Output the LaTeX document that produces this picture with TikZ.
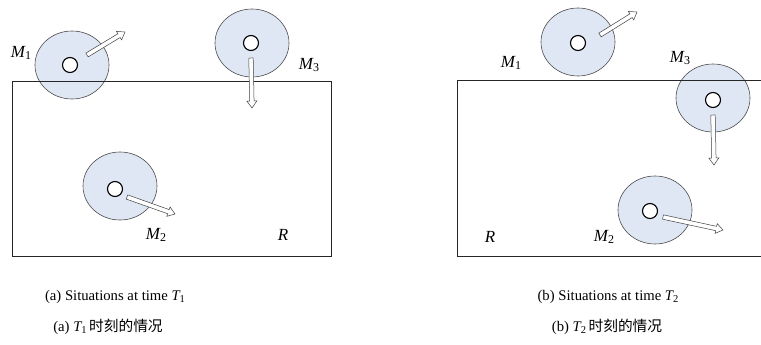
\documentclass[tikz,border=0pt]{standalone}
\usepackage{fontspec}
\setmainfont{Liberation Serif}[ItalicFont={Liberation Serif Italic}]
\newfontfamily\cjk{Noto Sans CJK SC}
\newfontfamily\serifit{Liberation Serif Italic}
\usetikzlibrary{shapes.geometric,calc}
\definecolor{diskfill}{RGB}{224,231,244}
\tikzset{
  disk/.style={ellipse, draw=black!70, line width=0.6pt, fill=diskfill, minimum width=74pt, minimum height=68pt, inner sep=0pt},
  hole/.style={circle, draw=black, line width=1.1pt, fill=white, minimum size=15pt, inner sep=0pt},
  lbl/.style={font=\fontsize{17}{19}\selectfont, inner sep=0pt},
  captext/.style={font=\fontsize{14.7}{16}\selectfont, inner sep=0pt},
  region/.style={draw=black!85, line width=0.9pt},
  pics/harrow/.style={code={
    \draw[draw=black!75, line width=0.5pt, fill=white]
      (0,-2.2) -- ({#1-7},-2.2) -- ({#1-7},-5) -- (#1,0) -- ({#1-7},5) -- ({#1-7},2.2) -- (0,2.2) -- cycle;}}
}
\newcommand\hollowarrow[2]{%
  \path let \p1=(#1), \p2=(#2), \n1={atan2(\y2-\y1,\x2-\x1)}, \n2={veclen(\x2-\x1,\y2-\y1)} in
    pic[rotate=\n1] at (\p1) {harrow=\n2};}
\newcommand\Mlab[1]{{\serifit M}\raisebox{-0.35ex}{\fontsize{12}{13}\selectfont #1}}
\newcommand\Tlab[1]{{\serifit T}\raisebox{-0.3ex}{\fontsize{10.5}{11}\selectfont #1}}
\begin{document}
\begin{tikzpicture}[x=1pt,y=-1pt]
\useasboundingbox (0,0) rectangle (761,345);
% ---------- left panel ----------
\node[disk] (la) at (72,65) {};
\node[disk] (lc) at (252,43) {};
\node[disk] (lb) at (120,186) {};
\draw[region] (12,81) rectangle (331,256);
\node[hole] (lah) at (70,65) {};
\node[hole] (lch) at (251,43) {};
\node[hole] (lbh) at (115,189) {};
\coordinate (las) at (87,55);  \coordinate (lae) at (125,32);
\coordinate (lcs) at (251,58); \coordinate (lce) at (252,108);
\coordinate (lbs) at (127,197);\coordinate (lbe) at (175,214);
\hollowarrow{las}{lae}
\hollowarrow{lcs}{lce}
\hollowarrow{lbs}{lbe}
\node[lbl] (lm1) at (21,53) {\Mlab{1}};
\node[lbl] (lm3) at (309,65) {\Mlab{3}};
\node[lbl] (lm2) at (156,235) {\Mlab{2}};
\node[lbl] (lr) at (283,235) {{\serifit R}};
% ---------- right panel ----------
\node[disk] (ra) at (578,42) {};
\node[disk] (rc) at (713,98) {};
\node[disk] (rb) at (655,210) {};
\draw[region] (761,80) -- (457,80) -- (457,256) -- (761,256);
\node[hole] (rah) at (578,43) {};
\node[hole] (rch) at (713,100) {};
\node[hole] (rbh) at (650,211) {};
\coordinate (ras) at (600,35);  \coordinate (rae) at (637,12);
\coordinate (rcs) at (713,115); \coordinate (rce) at (714,165);
\coordinate (rbs) at (663,217); \coordinate (rbe) at (723,230);
\hollowarrow{ras}{rae}
\hollowarrow{rcs}{rce}
\hollowarrow{rbs}{rbe}
\node[lbl] (rm1) at (511,63) {\Mlab{1}};
\node[lbl] (rm3) at (680,58) {\Mlab{3}};
\node[lbl] (rm2) at (604,237) {\Mlab{2}};
\node[lbl] (rr) at (490,237) {{\serifit R}};
% ---------- captions ----------
\node[captext] (c1) at (115,297) {(a) Situations at time \Tlab{1}};
\node[captext] (c2) at (108,327) {(a) \Tlab{1}\,{\cjk 时刻的情况}};
\node[captext] (c3) at (608,297) {(b) Situations at time \Tlab{2}};
\node[captext] (c4) at (607,327) {(b) \Tlab{2}\,{\cjk 时刻的情况}};
\end{tikzpicture}
\end{document}
